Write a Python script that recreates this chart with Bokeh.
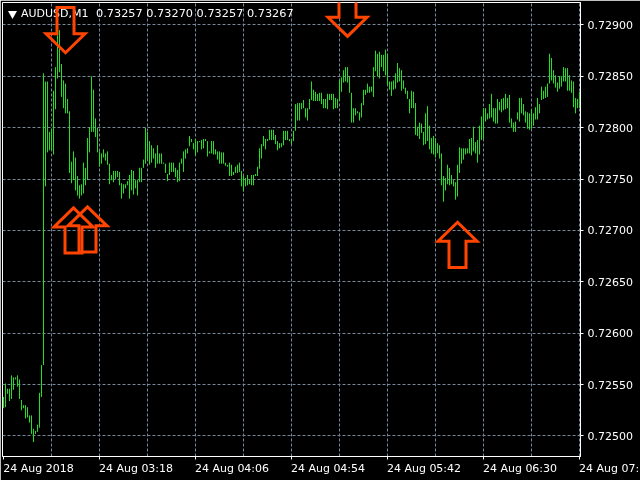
from bokeh.plotting import figure
from bokeh.models import FixedTicker, NumeralTickFormatter, LinearAxis, Range1d
from bokeh.core.properties import value
from bokeh.embed import file_html
from bokeh.resources import INLINE

title_symbol = "AUDUSD,M1"
title_quotes = "0.73257 0.73270 0.73257 0.73267"
x_tick_bars = [0, 48, 96, 144, 192, 240, 288]
# The last label sits at the window's edge: padded on its left so that its middle stays on the axis
x_tick_labels = ["24 Aug 2018", "24 Aug 03:18", "24 Aug 04:06", "24 Aug 04:54",
                 "24 Aug 05:42", "24 Aug 06:30", "\u00a0" * 18 + "24 Aug 07:"]
x_label_half_widths = [17.5, 18.25, 18.25, 18.25, 18.25, 18.25, -0.9]
x_grid_bars = [24, 48, 72, 96, 120, 144, 168, 192, 216, 240, 264, 288]
y_ticks = [0.72500, 0.72550, 0.72600, 0.72650, 0.72700, 0.72750, 0.72800, 0.72850, 0.72900]

# High / low of each M1 bar, in points (1e-5)
highs = [72538,72551,72546,72546,72559,72557,72557,72559,72555,72535,72530,72530,72528,72520,72520,72507,72505,72511,72542,72569,
72853,72845,72845,72796,72799,72836,72859,72890,72895,72862,72846,72843,72828,72816,72767,72777,72771,72753,72744,72745,
72766,72761,72790,72800,72850,72837,72809,72800,72777,72775,72779,72775,72777,72765,72754,72758,72758,72758,72757,72746,
72745,72745,72748,72754,72759,72758,72749,72749,72761,72761,72769,72800,72796,72787,72783,72780,72775,72783,72775,72775,
72766,72765,72755,72766,72766,72766,72761,72759,72766,72770,72777,72779,72780,72792,72789,72785,72789,72787,72787,72788,
72789,72789,72787,72777,72787,72787,72779,72777,72777,72776,72776,72766,72764,72766,72764,72757,72762,72764,72766,72758,
72753,72751,72754,72749,72754,72754,72755,72762,72780,72784,72792,72789,72789,72798,72798,72798,72793,72787,72785,72785,
72797,72797,72797,72789,72788,72797,72823,72824,72824,72824,72827,72819,72819,72828,72845,72837,72835,72833,72834,72834,
72828,72828,72833,72833,72833,72833,72829,72828,72846,72849,72856,72859,72859,72850,72834,72819,72819,72816,72815,72824,
72837,72837,72843,72840,72840,72859,72875,72872,72874,72871,72871,72876,72872,72845,72845,72846,72853,72863,72858,72856,
72846,72839,72836,72828,72836,72835,72824,72801,72805,72804,72796,72814,72821,72802,72790,72792,72790,72785,72783,72775,
72753,72751,72764,72761,72754,72749,72747,72764,72781,72780,72780,72780,72780,72789,72790,72801,72786,72788,72802,72811,
72819,72819,72814,72823,72833,72819,72819,72828,72825,72828,72829,72833,72829,72832,72809,72805,72806,72815,72829,72829,
72823,72816,72815,72814,72817,72814,72820,72829,72823,72840,72836,72840,72843,72872,72868,72856,72851,72844,72850,72850,
72859,72858,72858,72851,72846,72845,72829,72828,72835]
lows = [72527,72528,72541,72534,72536,72545,72555,72548,72536,72525,72527,72517,72518,72513,72502,72494,72502,72504,72508,72538,
72569,72743,72776,72778,72778,72774,72818,72848,72854,72830,72819,72814,72814,72756,72746,72749,72739,72734,72731,72734,
72736,72744,72749,72776,72796,72796,72791,72776,72762,72765,72771,72768,72764,72745,72749,72747,72750,72752,72744,72731,
72736,72741,72744,72731,72739,72735,72741,72734,72747,72747,72761,72765,72769,72764,72766,72770,72761,72765,72765,72765,
72765,72756,72748,72754,72757,72757,72752,72747,72748,72765,72757,72770,72775,72782,72786,72779,72773,72776,72786,72779,
72780,72787,72772,72775,72775,72774,72774,72769,72765,72765,72765,72763,72762,72753,72753,72754,72756,72756,72757,72743,
72738,72743,72744,72745,72744,72744,72753,72753,72760,72770,72782,72779,72787,72788,72788,72788,72784,72778,72780,72781,
72783,72788,72788,72787,72784,72787,72797,72807,72807,72818,72819,72810,72807,72818,72827,72826,72826,72826,72826,72823,
72819,72819,72818,72827,72827,72818,72819,72819,72826,72835,72844,72845,72844,72834,72805,72805,72812,72814,72807,72810,
72822,72832,72834,72834,72835,72830,72855,72850,72848,72859,72855,72851,72842,72837,72831,72837,72838,72844,72845,72836,
72838,72833,72828,72814,72819,72819,72793,72792,72789,72795,72783,72784,72787,72779,72775,72774,72771,72775,72770,72744,
72728,72739,72745,72744,72745,72743,72730,72733,72756,72765,72769,72774,72775,72775,72773,72777,72775,72766,72774,72788,
72789,72806,72808,72809,72810,72806,72804,72804,72817,72815,72817,72818,72819,72805,72800,72796,72796,72808,72806,72814,
72812,72805,72799,72798,72799,72802,72808,72808,72814,72827,72828,72829,72830,72843,72846,72843,72839,72835,72838,72840,
72845,72845,72836,72836,72834,72820,72814,72819,72819]

# Signal arrows: bar of the tip, price of the tip (points)
down_arrow_bars = [31, 172]
down_arrow_tips = [72873, 72889]
up_arrow_bars = [35, 42, 227]
up_arrow_tips = [72722, 72723, 72708]

bars = list(range(len(highs)))
to_price = lambda pts: [v / 1e5 for v in pts]

BG = "#000000"
p = figure(width=640, height=480, output_backend="svg", toolbar_location=None,
           x_range=Range1d(-0.5, 288.5), y_range=Range1d(0.72480, 0.729219),
           y_axis_location="right", min_border_left=2, min_border_right=60,
           min_border_top=2, min_border_bottom=24,
           background_fill_color=BG, border_fill_color=BG,
           outline_line_color="#ffffff", outline_line_width=1,
           styles={"position": "fixed", "left": "0", "top": "0"})

grid_color = "#778899"
p.xgrid.ticker = FixedTicker(ticks=x_grid_bars)
p.ygrid.ticker = FixedTicker(ticks=y_ticks)
for g in (p.xgrid, p.ygrid):
    g.grid_line_color = grid_color
    g.grid_line_dash = "3 2"
    g.grid_line_width = 1

p.yaxis.ticker = FixedTicker(ticks=y_ticks)
p.yaxis.formatter = NumeralTickFormatter(format="0.00000")
p.yaxis.major_label_text_color = "#ffffff"
p.yaxis.major_label_text_font = "DejaVu Sans"
p.yaxis.major_label_text_font_size = "11px"
p.yaxis.major_label_standoff = 4
p.yaxis.major_tick_out = 3
p.yaxis.major_tick_in = 0
p.yaxis.minor_tick_line_color = None
p.yaxis.major_tick_line_color = "#ffffff"
p.yaxis.axis_line_color = "#ffffff"

p.xaxis.ticker = FixedTicker(ticks=x_tick_bars)
p.xaxis.major_label_overrides = {b: "" for b in x_tick_bars}
p.xaxis.major_label_text_font_size = "0px"
p.xaxis.major_label_standoff = 0
p.xaxis.major_tick_out = 3
p.xaxis.major_tick_in = 0
p.xaxis.minor_tick_line_color = None
p.xaxis.major_tick_line_color = "#ffffff"
p.xaxis.axis_line_color = "#ffffff"

# Left-aligned time labels: an axis of its own, its ticks at the middle of each label
centers = [b + w for b, w in zip(x_tick_bars, x_label_half_widths)]
label_axis = LinearAxis(ticker=FixedTicker(ticks=centers),
                        major_label_overrides=dict(zip(centers, x_tick_labels)),
                        axis_line_color=None, major_tick_line_color=None,
                        minor_tick_line_color=None, major_tick_out=0, major_tick_in=0,
                        major_label_standoff=2, major_label_text_color="#ffffff",
                        major_label_text_font="DejaVu Sans", major_label_text_font_size="11px")
p.add_layout(label_axis, "below")

p.segment(bars, to_price(lows), bars, to_price(highs), line_color="#22e022", line_width=1)

p.scatter([4.5], [0.72478 + 0.00433], marker="inverted_triangle", size=9,
          fill_color="#ffffff", line_color=None)
p.text([8.75], [0.72478 + 0.00433], text=[title_symbol], text_color="#ffffff",
       text_font=value("DejaVu Sans"), text_font_size="11px", text_baseline="middle")
p.text([46.25], [0.72478 + 0.00433], text=[title_quotes], text_color="#ffffff",
       text_font=value("DejaVu Sans"), text_font_size="11.3px", text_baseline="middle")

half_head, half_shaft, head_len, total_len = 9.75, 4.25, 18.5, 44.0
arrow_color = "#ff4500"
def arrow(b, tip, d):
    xs = [b, b + half_head, b + half_shaft, b + half_shaft, b - half_shaft, b - half_shaft, b - half_head]
    ys = [tip, tip + d * head_len, tip + d * head_len, tip + d * total_len,
          tip + d * total_len, tip + d * head_len, tip + d * head_len]
    p.patch(xs, to_price(ys), fill_color=None, line_color=arrow_color, line_width=3, line_join="miter")

for b, t in zip(down_arrow_bars, down_arrow_tips):
    arrow(b, t, 1)
for b, t in zip(up_arrow_bars, up_arrow_tips):
    arrow(b, t, -1)

open("out.html", "w").write(file_html(p, INLINE))
